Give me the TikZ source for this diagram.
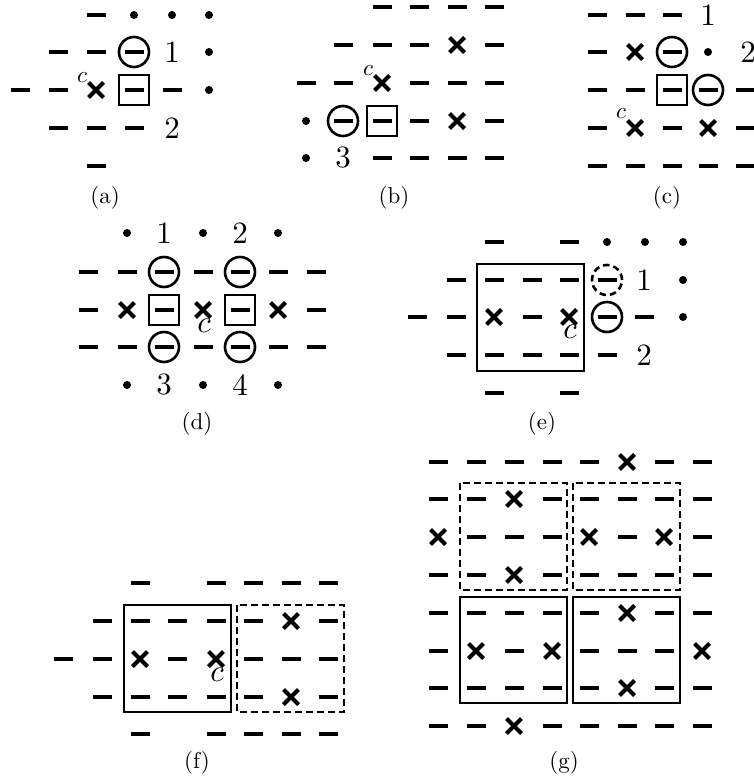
\documentclass[tikz,border=0pt]{standalone}
\usepackage{graphicx}
\tikzset{
  lbl/.style={inner sep=0pt},
  captxt/.style={inner sep=0pt},
  blk/.style={line width=2.2pt},
  dblk/.style={line width=2.2pt, dash pattern=on 7pt off 4pt},
}
\newcommand\csm{\scalebox{2.3}{$c$}}
\newcommand\clg{\scalebox{3.1}{$c$}}
\newcommand\lb[1]{\scalebox{3.1}{#1}}
\newcommand\cp[1]{\scalebox{2.3}{#1}}
\newcommand\symd[2]{\draw[line width=4.6pt] ({#1-9.5},{#2}) -- ({#1+9.5},{#2});}
\newcommand\symx[2]{\draw[line width=4pt] ({#1-7.5},{#2-7.5}) -- ({#1+7.5},{#2+7.5}) ({#1-7.5},{#2+7.5}) -- ({#1+7.5},{#2-7.5});}
\newcommand\symo[2]{\symd{#1}{#2}\draw[line width=2.6pt] (#1,#2) circle (15pt);}
\newcommand\symq[2]{\symd{#1}{#2}\draw[line width=2.6pt, dash pattern=on 6.5pt off 4pt] (#1,#2) circle (15pt);}
\newcommand\symb[2]{\symd{#1}{#2}\draw[line width=2.2pt] ({#1-15},{#2-15}) rectangle ({#1+15},{#2+15});}
\newcommand\symp[2]{\fill (#1,#2) circle (4pt);}
\newcommand\prow[2]{\foreach \xx/\kk in {#2} {\csname sym\kk\endcsname{\xx}{#1}}}
\begin{document}
\begin{tikzpicture}[x=1pt,y=-1pt]
\path[use as bounding box] (0,0) rectangle (754,781);
\clip (0,0) rectangle (754,781);
% ---------- (a)
\prow{15}{96/d,134/p,172/p,209/p}
\prow{52}{58/d,96/d,134/o,209/p}
\prow{90}{20/d,58/d,96/x,134/b,172/d,209/p}
\prow{128}{58/d,96/d,134/d}
\prow{166}{96/d}
\node[lbl] (a1) at (172,52) {\lb{1}};
\node[lbl] (a2) at (172,128) {\lb{2}};
\node[inner sep=0pt] (ac) at (82,78) {\csm};
\node[captxt] (acap) at (105,198) {\cp{(a)}};
% ---------- (b)
\prow{7}{382/d,419/d,457/d,494/d}
\prow{45}{343/d,382/d,419/d,457/x,494/d}
\prow{83}{306/d,343/d,382/x,419/d,457/d,494/d}
\prow{121}{306/p,343/o,382/b,419/d,457/x,494/d}
\prow{158}{306/p,382/d,419/d,457/d,494/d}
\node[lbl] (b3) at (343,158) {\lb{3}};
\node[inner sep=0pt] (bc) at (368,71) {\csm};
\node[captxt] (bcap) at (394,198) {\cp{(b)}};
% ---------- (c)
\prow{15}{597/d,635/d,672/d}
\prow{52}{597/d,635/x,672/o,708/p}
\prow{90}{597/d,635/d,672/b,708/o,745/d}
\prow{128}{597/d,635/x,672/d,708/x,745/d}
\prow{166}{597/d,635/d,672/d,708/d,745/d}
\node[lbl] (c1) at (708,15) {\lb{1}};
\node[lbl] (c2) at (748,52) {\lb{2}};
\node[inner sep=0pt] (cc) at (621,114) {\csm};
\node[captxt] (ccap) at (667,198) {\cp{(c)}};
% ---------- (d)
\prow{233}{127/p,203/p,278/p}
\prow{272}{88/d,127/d,164/o,203/d,240/o,278/d,316/d}
\prow{310}{88/d,127/x,164/b,203/x,240/b,278/x,316/d}
\prow{347}{88/d,127/d,164/o,203/d,240/o,278/d,316/d}
\prow{385}{127/p,203/p,278/p}
\node[lbl] (d1) at (164,233) {\lb{1}};
\node[lbl] (d2) at (240,233) {\lb{2}};
\node[lbl] (d3) at (164,385) {\lb{3}};
\node[lbl] (d4) at (240,385) {\lb{4}};
\node[inner sep=0pt] (dc) at (204,326) {\clg};
\node[captxt] (dcap) at (197,424) {\cp{(d)}};
% ---------- (e)
\draw[blk] (477,264) rectangle (584,371);
\prow{242}{494/d,569/d,607/p,645/p,683/p}
\prow{280}{456/d,494/d,532/d,569/d,607/q,683/p}
\prow{317}{417/d,456/d,494/x,532/d,569/x,607/o,644/d,683/p}
\prow{355}{456/d,494/d,532/d,569/d,607/d}
\prow{393}{494/d,569/d}
\node[lbl] (e1) at (644,280) {\lb{1}};
\node[lbl] (e2) at (644,355) {\lb{2}};
\node[inner sep=0pt] (ec) at (570,332) {\clg};
\node[captxt] (ecap) at (542,424) {\cp{(e)}};
% ---------- (f)
\draw[blk] (124,605) rectangle (231,712);
\draw[dblk] (237,605) rectangle (344,712);
\prow{583}{140/d,216/d,253/d,291/d,328/d}
\prow{621}{102/d,140/d,177/d,216/d,253/d,291/x,328/d}
\prow{659}{63/d,102/d,140/x,177/d,216/x,253/d,291/d,328/d}
\prow{697}{102/d,140/d,177/d,216/d,253/d,291/x,328/d}
\prow{734}{140/d,216/d,253/d,291/d,328/d}
\node[inner sep=0pt] (fc) at (217,675) {\clg};
\node[captxt] (fcap) at (197,763) {\cp{(f)}};
% ---------- (g)
\draw[dblk] (460,483) rectangle (567,590);
\draw[dblk] (573,483) rectangle (680,590);
\draw[blk] (460,597) rectangle (567,703);
\draw[blk] (573,597) rectangle (680,703);
\prow{462}{438/d,476/d,514/d,552/d,589/d,627/x,664/d,702/d}
\prow{499}{438/d,476/d,514/x,552/d,589/d,627/d,664/d,702/d}
\prow{537}{438/x,476/d,514/d,552/d,589/x,627/d,664/x,702/d}
\prow{575}{438/d,476/d,514/x,552/d,589/d,627/d,664/d,702/d}
\prow{613}{438/d,476/d,514/d,552/d,589/d,627/x,664/d,702/d}
\prow{651}{438/d,476/x,514/d,552/x,589/d,627/d,664/d,702/x}
\prow{688}{438/d,476/d,514/d,552/d,589/d,627/x,664/d,702/d}
\prow{726}{438/d,476/d,514/x,552/d,589/d,627/d,664/d,702/d}
\node[captxt] (gcap) at (564,763) {\cp{(g)}};
\end{tikzpicture}
\end{document}
